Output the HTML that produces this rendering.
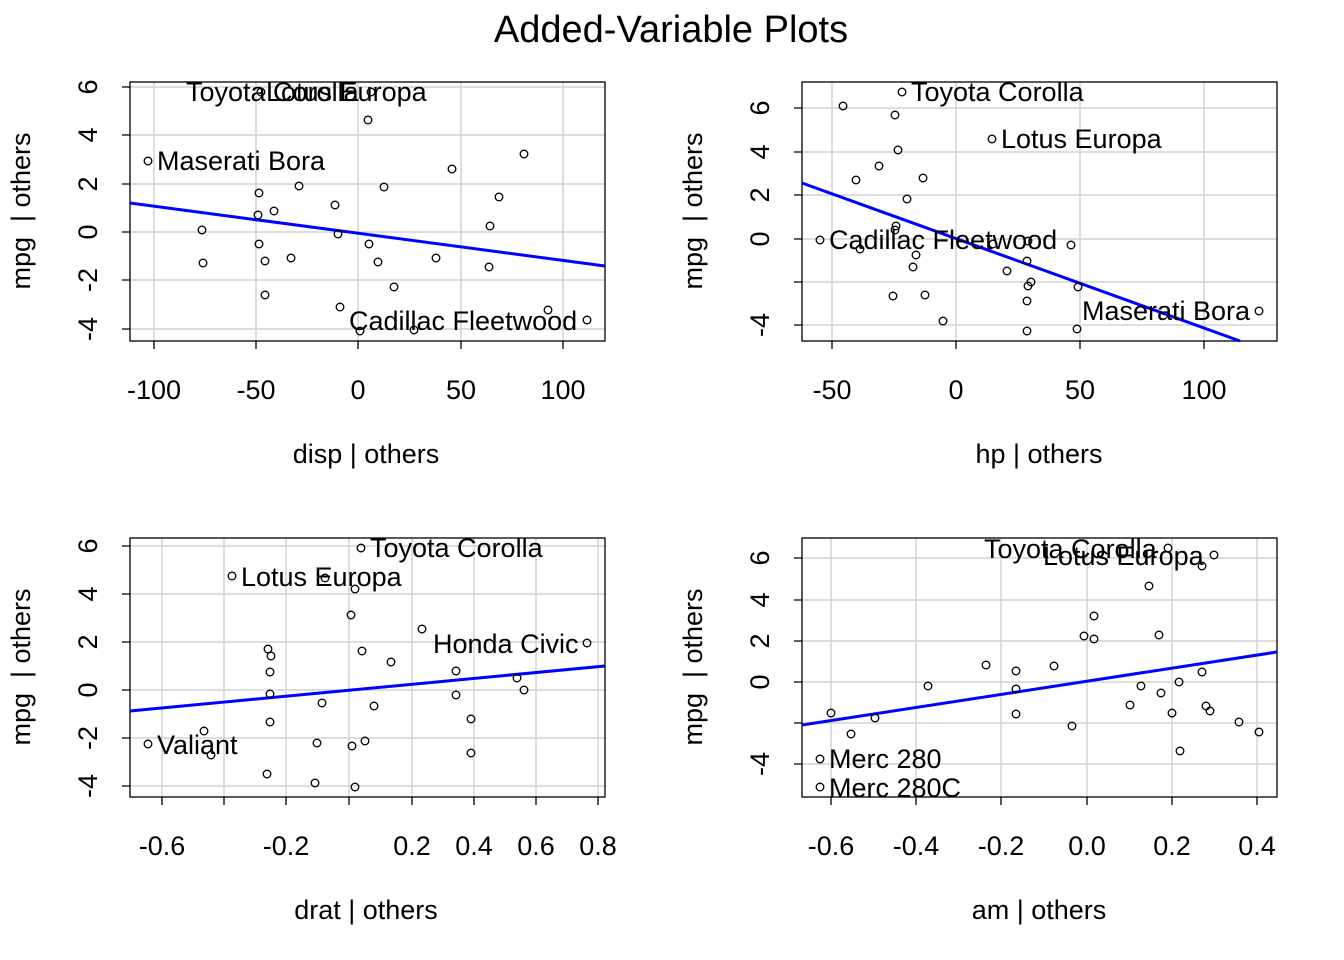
<!DOCTYPE html>
<html><head><meta charset="utf-8"><style>body{margin:0;background:#fff}svg{display:block}text{font-family:"Liberation Sans",Arial,sans-serif;fill:#000;white-space:pre}</style></head>
<body>
<svg width="1344" height="960" xmlns="http://www.w3.org/2000/svg">
<text x="671" y="42" font-size="38" text-anchor="middle">Added-Variable Plots</text>
<g stroke="#d3d3d3" stroke-width="1.5">
<line x1="154" y1="82" x2="154" y2="341"/><line x1="256" y1="82" x2="256" y2="341"/><line x1="358" y1="82" x2="358" y2="341"/><line x1="461" y1="82" x2="461" y2="341"/><line x1="563" y1="82" x2="563" y2="341"/>
<line x1="130" y1="87" x2="605" y2="87"/><line x1="130" y1="135" x2="605" y2="135"/><line x1="130" y1="184" x2="605" y2="184"/><line x1="130" y1="232" x2="605" y2="232"/><line x1="130" y1="280" x2="605" y2="280"/><line x1="130" y1="329" x2="605" y2="329"/>
<line x1="832" y1="82" x2="832" y2="341"/><line x1="956" y1="82" x2="956" y2="341"/><line x1="1080" y1="82" x2="1080" y2="341"/><line x1="1204" y1="82" x2="1204" y2="341"/>
<line x1="802" y1="108" x2="1277" y2="108"/><line x1="802" y1="152" x2="1277" y2="152"/><line x1="802" y1="195" x2="1277" y2="195"/><line x1="802" y1="239" x2="1277" y2="239"/><line x1="802" y1="282" x2="1277" y2="282"/><line x1="802" y1="325" x2="1277" y2="325"/>
<line x1="162" y1="538" x2="162" y2="797"/><line x1="224" y1="538" x2="224" y2="797"/><line x1="286" y1="538" x2="286" y2="797"/><line x1="349" y1="538" x2="349" y2="797"/><line x1="412" y1="538" x2="412" y2="797"/><line x1="474" y1="538" x2="474" y2="797"/><line x1="536" y1="538" x2="536" y2="797"/><line x1="598" y1="538" x2="598" y2="797"/>
<line x1="130" y1="546" x2="605" y2="546"/><line x1="130" y1="594" x2="605" y2="594"/><line x1="130" y1="642" x2="605" y2="642"/><line x1="130" y1="690" x2="605" y2="690"/><line x1="130" y1="738" x2="605" y2="738"/><line x1="130" y1="786" x2="605" y2="786"/>
<line x1="831" y1="538" x2="831" y2="797"/><line x1="916" y1="538" x2="916" y2="797"/><line x1="1001" y1="538" x2="1001" y2="797"/><line x1="1087" y1="538" x2="1087" y2="797"/><line x1="1172" y1="538" x2="1172" y2="797"/><line x1="1257" y1="538" x2="1257" y2="797"/>
<line x1="802" y1="558" x2="1277" y2="558"/><line x1="802" y1="600" x2="1277" y2="600"/><line x1="802" y1="641" x2="1277" y2="641"/><line x1="802" y1="682" x2="1277" y2="682"/><line x1="802" y1="723" x2="1277" y2="723"/><line x1="802" y1="764" x2="1277" y2="764"/>
</g>
<g fill="none" stroke="#000" stroke-width="1.3">
<rect x="130" y="82" width="475" height="259"/><rect x="802" y="82" width="475" height="259"/>
<rect x="130" y="538" width="475" height="259"/><rect x="802" y="538" width="475" height="259"/>
<path d="M154 341v8M256 341v8M358 341v8M461 341v8M563 341v8M130 87h-8M130 135h-8M130 184h-8M130 232h-8M130 280h-8M130 329h-8"/>
<path d="M832 341v8M956 341v8M1080 341v8M1204 341v8M802 108h-8M802 152h-8M802 195h-8M802 239h-8M802 282h-8M802 325h-8"/>
<path d="M162 797v8M224 797v8M286 797v8M349 797v8M412 797v8M474 797v8M536 797v8M598 797v8M130 546h-8M130 594h-8M130 642h-8M130 690h-8M130 738h-8M130 786h-8"/>
<path d="M831 797v8M916 797v8M1001 797v8M1087 797v8M1172 797v8M1257 797v8M802 558h-8M802 600h-8M802 641h-8M802 682h-8M802 723h-8M802 764h-8"/>
</g>
<g font-size="27" text-anchor="middle">
<text x="154" y="399">-100</text><text x="256" y="399">-50</text><text x="358" y="399">0</text><text x="461" y="399">50</text><text x="563" y="399">100</text>
<text x="832" y="399">-50</text><text x="956" y="399">0</text><text x="1080" y="399">50</text><text x="1204" y="399">100</text>
<text x="162" y="855">-0.6</text><text x="286" y="855">-0.2</text><text x="412" y="855">0.2</text><text x="474" y="855">0.4</text><text x="536" y="855">0.6</text><text x="598" y="855">0.8</text>
<text x="831" y="855">-0.6</text><text x="916" y="855">-0.4</text><text x="1001" y="855">-0.2</text><text x="1087" y="855">0.0</text><text x="1172" y="855">0.2</text><text x="1257" y="855">0.4</text>
<text x="366" y="463">disp | others</text><text x="1039" y="463">hp | others</text>
<text x="366" y="919">drat | others</text><text x="1039" y="919">am | others</text>
<g transform="rotate(-90)">
<text x="-87" y="97">6</text><text x="-135" y="97">4</text><text x="-184" y="97">2</text><text x="-232" y="97">0</text><text x="-280" y="97">-2</text><text x="-329" y="97">-4</text>
<text x="-108" y="769">6</text><text x="-152" y="769">4</text><text x="-195" y="769">2</text><text x="-239" y="769">0</text><text x="-325" y="769">-4</text>
<text x="-546" y="97">6</text><text x="-594" y="97">4</text><text x="-642" y="97">2</text><text x="-690" y="97">0</text><text x="-738" y="97">-2</text><text x="-786" y="97">-4</text>
<text x="-558" y="769">6</text><text x="-600" y="769">4</text><text x="-641" y="769">2</text><text x="-682" y="769">0</text><text x="-764" y="769">-4</text>
<text x="-211" y="30">mpg  | others</text><text x="-211" y="702">mpg  | others</text>
<text x="-667" y="30">mpg  | others</text><text x="-667" y="702">mpg  | others</text>
</g></g>
<g stroke="#0000ff" stroke-width="3"><line x1="130" y1="203" x2="605" y2="266"/><line x1="802" y1="183" x2="1240" y2="341"/><line x1="130" y1="711" x2="605" y2="666"/><line x1="802" y1="725" x2="1277" y2="652"/></g>
<g fill="none" stroke="#000" stroke-width="1.3">
<circle cx="148" cy="161" r="3.8"/><circle cx="261" cy="92" r="3.8"/><circle cx="371" cy="92" r="3.8"/><circle cx="368" cy="120" r="3.8"/><circle cx="524" cy="154" r="3.8"/><circle cx="452" cy="169" r="3.8"/><circle cx="499" cy="197" r="3.8"/><circle cx="384" cy="187" r="3.8"/><circle cx="299" cy="186" r="3.8"/><circle cx="259" cy="193" r="3.8"/><circle cx="274" cy="211" r="3.8"/><circle cx="258" cy="215" r="3.8"/><circle cx="335" cy="205" r="3.8"/><circle cx="202" cy="230" r="3.8"/><circle cx="338" cy="234" r="3.8"/><circle cx="369" cy="244" r="3.8"/><circle cx="490" cy="226" r="3.8"/><circle cx="259" cy="244" r="3.8"/><circle cx="265" cy="261" r="3.8"/><circle cx="291" cy="258" r="3.8"/><circle cx="378" cy="262" r="3.8"/><circle cx="436" cy="258" r="3.8"/><circle cx="489" cy="267" r="3.8"/><circle cx="203" cy="263" r="3.8"/><circle cx="394" cy="287" r="3.8"/><circle cx="265" cy="295" r="3.8"/><circle cx="340" cy="307" r="3.8"/><circle cx="548" cy="310" r="3.8"/><circle cx="587" cy="320" r="3.8"/><circle cx="360" cy="331" r="3.8"/><circle cx="414" cy="330" r="3.8"/>
<circle cx="843" cy="106" r="3.8"/><circle cx="902" cy="92" r="3.8"/><circle cx="895" cy="115" r="3.8"/><circle cx="992" cy="139" r="3.8"/><circle cx="898" cy="150" r="3.8"/><circle cx="879" cy="166" r="3.8"/><circle cx="856" cy="180" r="3.8"/><circle cx="923" cy="178" r="3.8"/><circle cx="907" cy="199" r="3.8"/><circle cx="896" cy="226" r="3.8"/><circle cx="895" cy="230" r="3.8"/><circle cx="820" cy="240" r="3.8"/><circle cx="1028" cy="241" r="3.8"/><circle cx="993" cy="244" r="3.8"/><circle cx="860" cy="249" r="3.8"/><circle cx="916" cy="255" r="3.8"/><circle cx="1071" cy="245" r="3.8"/><circle cx="1027" cy="261" r="3.8"/><circle cx="913" cy="267" r="3.8"/><circle cx="1007" cy="271" r="3.8"/><circle cx="1031" cy="282" r="3.8"/><circle cx="1028" cy="286" r="3.8"/><circle cx="1078" cy="287" r="3.8"/><circle cx="893" cy="296" r="3.8"/><circle cx="925" cy="295" r="3.8"/><circle cx="1027" cy="301" r="3.8"/><circle cx="943" cy="321" r="3.8"/><circle cx="1259" cy="311" r="3.8"/><circle cx="1027" cy="331" r="3.8"/><circle cx="1077" cy="329" r="3.8"/>
<circle cx="361" cy="548" r="3.8"/><circle cx="232" cy="576" r="3.8"/><circle cx="325" cy="578" r="3.8"/><circle cx="355" cy="589" r="3.8"/><circle cx="351" cy="615" r="3.8"/><circle cx="422" cy="629" r="3.8"/><circle cx="587" cy="643" r="3.8"/><circle cx="268" cy="649" r="3.8"/><circle cx="271" cy="656" r="3.8"/><circle cx="362" cy="651" r="3.8"/><circle cx="391" cy="662" r="3.8"/><circle cx="270" cy="672" r="3.8"/><circle cx="456" cy="671" r="3.8"/><circle cx="517" cy="678" r="3.8"/><circle cx="524" cy="690" r="3.8"/><circle cx="270" cy="694" r="3.8"/><circle cx="456" cy="695" r="3.8"/><circle cx="322" cy="703" r="3.8"/><circle cx="374" cy="706" r="3.8"/><circle cx="471" cy="719" r="3.8"/><circle cx="270" cy="722" r="3.8"/><circle cx="148" cy="744" r="3.8"/><circle cx="204" cy="731" r="3.8"/><circle cx="317" cy="743" r="3.8"/><circle cx="352" cy="746" r="3.8"/><circle cx="365" cy="741" r="3.8"/><circle cx="211" cy="755" r="3.8"/><circle cx="471" cy="753" r="3.8"/><circle cx="267" cy="774" r="3.8"/><circle cx="315" cy="783" r="3.8"/><circle cx="355" cy="787" r="3.8"/>
<circle cx="1168" cy="548" r="3.8"/><circle cx="1214" cy="555" r="3.8"/><circle cx="1202" cy="566" r="3.8"/><circle cx="1149" cy="586" r="3.8"/><circle cx="1094" cy="616" r="3.8"/><circle cx="1084" cy="636" r="3.8"/><circle cx="1094" cy="639" r="3.8"/><circle cx="1159" cy="635" r="3.8"/><circle cx="986" cy="665" r="3.8"/><circle cx="1054" cy="666" r="3.8"/><circle cx="1016" cy="671" r="3.8"/><circle cx="1202" cy="672" r="3.8"/><circle cx="928" cy="686" r="3.8"/><circle cx="1141" cy="686" r="3.8"/><circle cx="1016" cy="689" r="3.8"/><circle cx="1179" cy="682" r="3.8"/><circle cx="1161" cy="693" r="3.8"/><circle cx="1130" cy="705" r="3.8"/><circle cx="1172" cy="713" r="3.8"/><circle cx="1206" cy="706" r="3.8"/><circle cx="1210" cy="711" r="3.8"/><circle cx="1239" cy="722" r="3.8"/><circle cx="1259" cy="732" r="3.8"/><circle cx="831" cy="713" r="3.8"/><circle cx="875" cy="718" r="3.8"/><circle cx="1016" cy="714" r="3.8"/><circle cx="851" cy="734" r="3.8"/><circle cx="1072" cy="726" r="3.8"/><circle cx="1180" cy="751" r="3.8"/><circle cx="820" cy="759" r="3.8"/><circle cx="820" cy="787" r="3.8"/>
</g>
<g font-size="27">
<text x="157" y="170">Maserati Bora</text><text x="186" y="101">Toyota Corolla</text><text x="266" y="101">Lotus Europa</text><text x="349" y="330">Cadillac Fleetwood</text>
<text x="911" y="101">Toyota Corolla</text><text x="1001" y="148">Lotus Europa</text><text x="829" y="249">Cadillac Fleetwood</text><text x="1082" y="320">Maserati Bora</text>
<text x="370" y="557">Toyota Corolla</text><text x="241" y="586">Lotus Europa</text><text x="433" y="653">Honda Civic</text><text x="157" y="754">Valiant</text>
<text x="984" y="558">Toyota Corolla</text><text x="1043" y="565">Lotus Europa</text><text x="829" y="768">Merc 280</text><text x="829" y="797">Merc 280C</text>
</g>
</svg>
</body></html>
